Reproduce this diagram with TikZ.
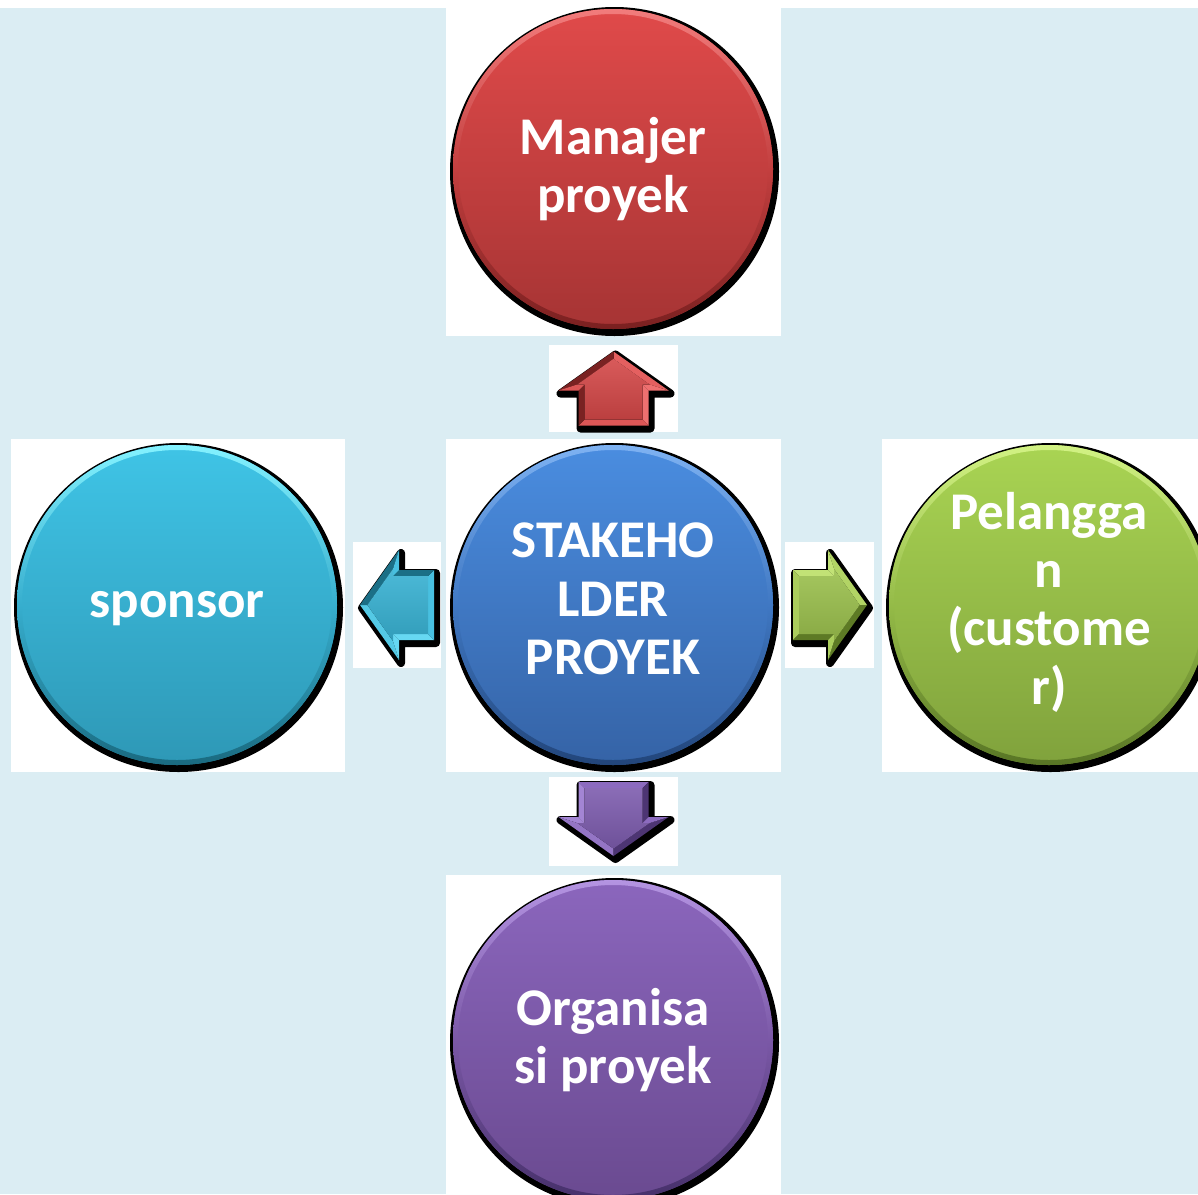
\documentclass[tikz,border=0pt]{standalone}
\usepackage{fontspec}
\setmainfont{Carlito}

% page and panel colours
\definecolor{bgblue}{HTML}{DBEDF3}
% circle colours: light rim, top, bottom, dark rim
\definecolor{redL}{HTML}{F27C7C}\definecolor{redT}{HTML}{E04A4A}\definecolor{redB}{HTML}{A63434}\definecolor{redD}{HTML}{7A2020}
\definecolor{bluL}{HTML}{7EB2F2}\definecolor{bluT}{HTML}{4A8DE0}\definecolor{bluB}{HTML}{3563A6}\definecolor{bluD}{HTML}{22457A}
\definecolor{cyaL}{HTML}{84F2FF}\definecolor{cyaT}{HTML}{3FC4E6}\definecolor{cyaB}{HTML}{2E98B6}\definecolor{cyaD}{HTML}{1A6A80}
\definecolor{grnL}{HTML}{D2F284}\definecolor{grnT}{HTML}{A9D453}\definecolor{grnB}{HTML}{80A23C}\definecolor{grnD}{HTML}{587525}
\definecolor{purL}{HTML}{B494E2}\definecolor{purT}{HTML}{8B66BD}\definecolor{purB}{HTML}{6A4A90}\definecolor{purD}{HTML}{46306A}
% block arrow colours: light facet, face, dark facet, side facet
\definecolor{raL}{HTML}{EE7070}\definecolor{raF}{HTML}{D44848}\definecolor{raD}{HTML}{7A2222}\definecolor{raM}{HTML}{DC5656}
\definecolor{caL}{HTML}{66D8F2}\definecolor{caF}{HTML}{38B2D3}\definecolor{caD}{HTML}{1B6F86}\definecolor{caM}{HTML}{48C0E0}
\definecolor{gaL}{HTML}{C2E276}\definecolor{gaF}{HTML}{9BC04D}\definecolor{gaD}{HTML}{5D7A25}\definecolor{gaM}{HTML}{AACD5C}
\definecolor{paL}{HTML}{A385D4}\definecolor{paF}{HTML}{7D5CAE}\definecolor{paD}{HTML}{4D3573}\definecolor{paM}{HTML}{8C6BBF}

\tikzset{
  panel/.style={fill=white},
  bubble/.style={circle, minimum size=320pt, inner sep=0pt},
  bubbletext/.style={text=white, align=center, inner sep=0pt,
    font=\fontsize{53}{58.3}\selectfont\bfseries},
  % block arrow pointing along +x, centred on the origin
  pics/arrowshadow/.style={code={
    \filldraw[black, line width=8pt, line join=round]
      (-37,35) -- (-2,35) -- (-2,55) -- (37,0) -- (-2,-55) -- (-2,-35) -- (-37,-35) -- cycle;
  }},
  pics/arrowbody/.style n args={4}{code={
    \fill[#1] (-37,35) -- (-2,35) -- (4,29) -- (-31,29) -- cycle;
    \fill[#4] (-37,35) -- (-31,29) -- (-31,-29) -- (-37,-35) -- cycle;
    \fill[#3] (-37,-35) -- (-31,-29) -- (4,-29) -- (-2,-35) -- cycle;
    \fill[#1] (-2,35) -- (-2,55) -- (4,36.2) -- (4,29) -- cycle;
    \fill[#1!60!#2] (-2,55) -- (37,0) -- (29.7,0) -- (4,36.2) -- cycle;
    \fill[#3] (37,0) -- (-2,-55) -- (4,-36.2) -- (29.7,0) -- cycle;
    \fill[#4] (-2,-55) -- (-2,-35) -- (4,-29) -- (4,-36.2) -- cycle;
    \shade[top color=#2!90!white, bottom color=#2!88!black]
      (-31,29) -- (4,29) -- (4,36.2) -- (29.7,0) -- (4,-36.2) -- (4,-29) -- (-31,-29) -- cycle;
  }}
}

% name, x, y, light rim, top, bottom, dark rim, text, text shift
\newcommand\bubble[9]{%
  \fill[black] (#2+1.5,-#3-2.5) circle (164.5);
  \node[bubble, top color=#5, bottom color=#6] (#1) at (#2,-#3) {};
  \shade[top color=#4, bottom color=#7, middle color=#5!50!#6, even odd rule]
    (#2,-#3) circle (160) circle (155);
  \node[bubbletext, yshift=#9] (#1-t) at (#1.center) {#8};
}

\begin{document}
\begin{tikzpicture}[x=1pt,y=1pt]
  \clip (0,0) rectangle (1198,-1194);
  \fill[white] (0,0) rectangle (1198,-1194);
  \fill[bgblue] (0,-8) rectangle (1198,-1194);

  % white panels behind circles and arrows
  \fill[panel] (446,0) rectangle (781,-336);
  \fill[panel] (549,-345) rectangle (678,-432);
  \fill[panel] (11,-439) rectangle (345,-772);
  \fill[panel] (353,-542) rectangle (441,-668);
  \fill[panel] (446,-439) rectangle (781,-772);
  \fill[panel] (785,-542) rectangle (874,-668);
  \fill[panel] (882,-439) rectangle (1198,-772);
  \fill[panel] (549,-777) rectangle (678,-866);
  \fill[panel] (446,-875) rectangle (781,-1194);

  % circles
  \bubble{pm}{613}{169}{redL}{redT}{redB}{redD}{Manajer\\proyek}{0pt}
  \bubble{sh}{613}{605}{bluL}{bluT}{bluB}{bluD}{STAKEHO\\LDER\\PROYEK}{6pt}
  \bubble{sp}{177}{605}{cyaL}{cyaT}{cyaB}{cyaD}{sponsor}{-4pt}
  \bubble{cu}{1049}{605}{grnL}{grnT}{grnB}{grnD}{Pelangga\\n\\(custome\\r)}{3pt}
  \bubble{org}{613}{1040}{purL}{purT}{purB}{purD}{Organisa\\si proyek}{0pt}

  % block arrows: shadows, then bodies
  \pic[shift={(2,-3)}, rotate=90, yscale=-1] at (613.5,-388.5) {arrowshadow};
  \pic[shift={(2,-3)}, rotate=-90, yscale=-1] at (613.5,-819) {arrowshadow};
  \pic[shift={(2,-3)}, rotate=180] at (397,-605) {arrowshadow};
  \pic[shift={(2,-3)}] at (830,-605) {arrowshadow};

  \pic[rotate=90, yscale=-1] at (613.5,-388.5) {arrowbody={raL}{raF}{raD}{raM}};
  \pic[rotate=-90, yscale=-1] at (613.5,-819) {arrowbody={paL}{paF}{paD}{paM}};
  \pic[rotate=180] at (397,-605) {arrowbody={caL}{caF}{caD}{caM}};
  \pic at (830,-605) {arrowbody={gaL}{gaF}{gaD}{gaM}};
\end{tikzpicture}
\end{document}
